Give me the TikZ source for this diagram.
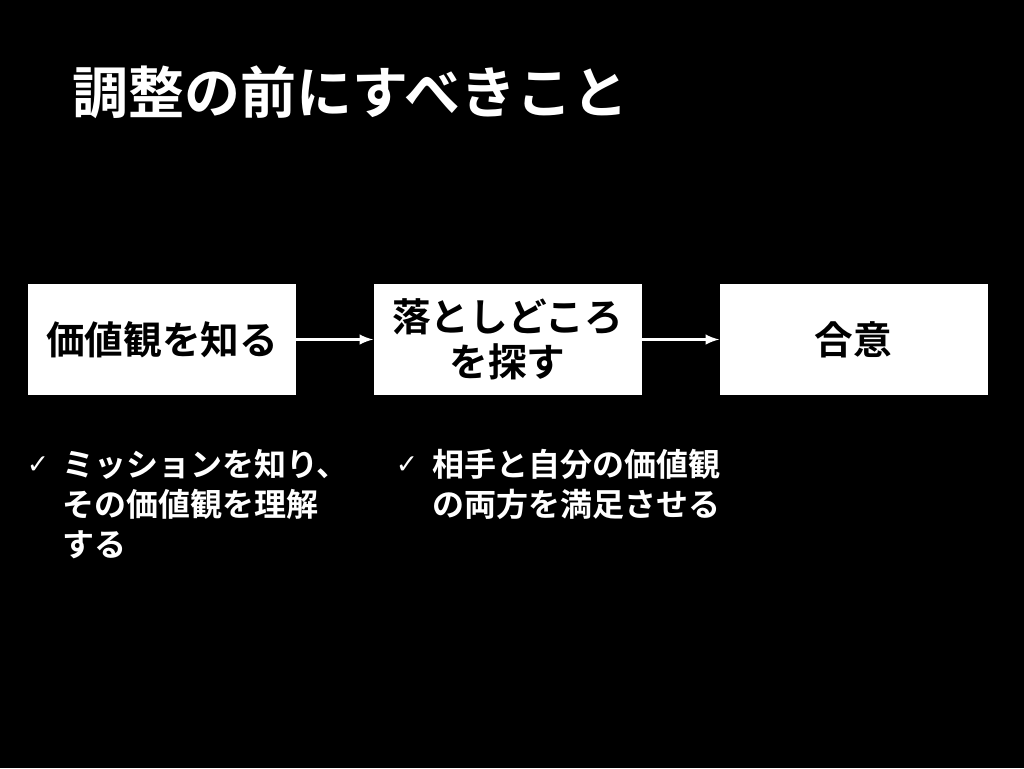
\documentclass[tikz,border=0pt]{standalone}
\usepackage{fontspec}
\setmainfont{Noto Sans CJK JP}[BoldFont={* Bold}]
\newfontfamily\symfont{DejaVu Sans}
\begin{document}
\begin{tikzpicture}[x=0.75pt,y=-0.75pt,
  box/.style={draw=none,fill=white,minimum width=268*0.75pt,minimum height=111*0.75pt,font=\bfseries\fontsize{29}{34}\selectfont,align=center,inner sep=0pt},
  arr/.style={white,line width=2.5pt,-latex},
  txt/.style={white,font=\bfseries\fontsize{24}{30}\selectfont,align=left,anchor=north west,inner sep=0pt}]
\fill[black] (0,0) rectangle (1024,768);
\useasboundingbox (0,0) rectangle (1024,768);
\node[white,font=\bfseries\fontsize{42}{50}\selectfont,anchor=west,inner sep=0pt] (title) at (72,92) {調整の前にすべきこと};
\node[box] (b1) at (162,339.5) {価値観を知る};
\node[box] (b2) at (507.5,339.5) {落としどころ\\を探す};
\node[box] (b3) at (853.5,339.5) {合意};
\draw[arr] (b1) -- (b2);
\draw[arr] (b2) -- (b3);
\node[white,font=\symfont\fontsize{20}{24}\selectfont,inner sep=0pt] (c1) at (38,465) {✓};
\node[txt] (t1) at (62,449) {ミッションを知り、\\その価値観を理解\\する};
\node[white,font=\symfont\fontsize{20}{24}\selectfont,inner sep=0pt] (c2) at (407,465) {✓};
\node[txt] (t2) at (432,449) {相手と自分の価値観\\の両方を満足させる};
\end{tikzpicture}
\end{document}
